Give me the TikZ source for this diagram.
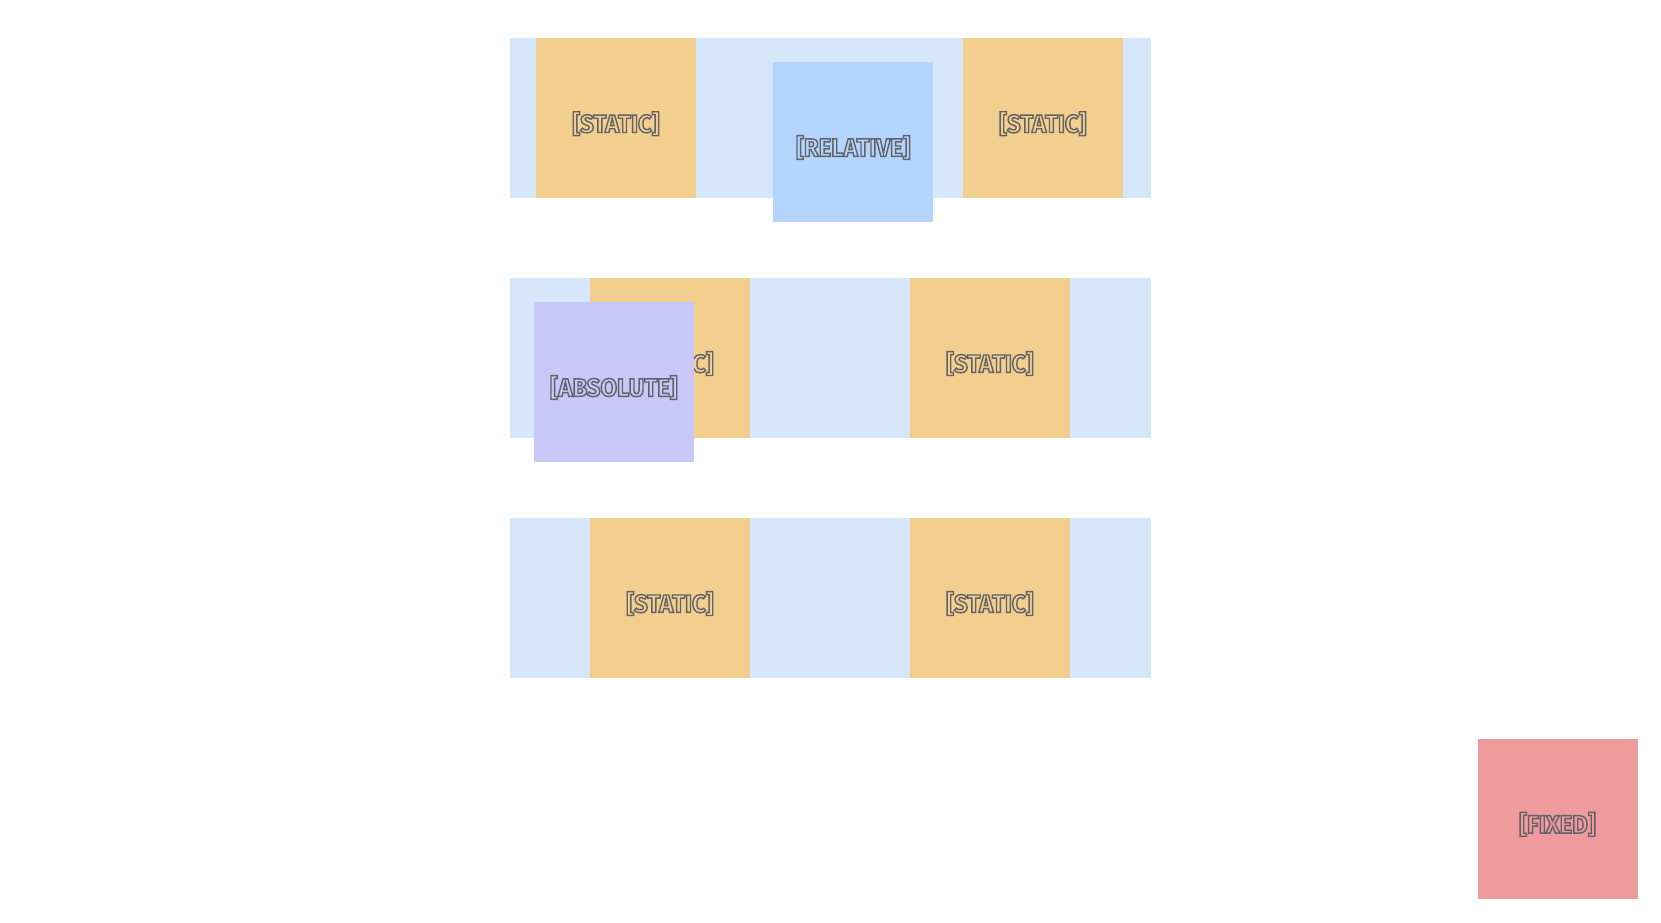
\documentclass[tikz,border=0pt]{standalone}
\usepackage{fontspec}
\setmainfont{Fira Sans}
\newfontfamily\labfont[FakeStretch=0.95]{Fira Sans}
\definecolor{rowbg}{HTML}{D6E6FB}
\definecolor{statc}{HTML}{F3CF8F}
\definecolor{relc}{HTML}{B3D5FD}
\definecolor{absc}{HTML}{C9C6F8}
\definecolor{fixc}{HTML}{EF9A9D}
\definecolor{txt}{HTML}{616168}
\newcommand{\outl}[1]{\special{pdf:literal direct 1 Tr 0.7 w}#1\special{pdf:literal direct 0 Tr}}
\begin{document}
\begin{tikzpicture}[x=0.5pt,y=-0.5pt,
  box/.style={minimum width=80pt,minimum height=80pt,inner sep=0pt,outer sep=0pt},
  lab/.style={font=\labfont\bfseries\fontsize{12.6}{12.6}\selectfont,text=txt,yshift=-2.8pt,inner sep=0pt},
  rowbox/.style={fill=rowbg,inner sep=0pt,outer sep=0pt,minimum width=320.5pt,minimum height=80pt},
  staticbox/.style={box,fill=statc},
  relbox/.style={box,fill=relc},
  absbox/.style={box,fill=absc},
  fixbox/.style={box,fill=fixc}]
\useasboundingbox[fill=white] (0,0) rectangle (1661,922);
% row 1
\node[rowbox] (r1) at (830,118.1) {};
\node[staticbox,label={[lab]center:\outl{[STATIC]}}] (s1a) at (616,118.1) {};
\node[staticbox,label={[lab]center:\outl{[STATIC]}}] (s1b) at (1042.9,118.1) {};
\node[relbox,label={[lab]center:\outl{[RELATIVE]}}] (rel) at (853.3,141.9) {};
% row 2
\node[rowbox] (r2) at (830,358) {};
\node[staticbox,label={[lab]center:\outl{[STATIC]}}] (s2a) at (670,358) {};
\node[staticbox,label={[lab]center:\outl{[STATIC]}}] (s2b) at (989.9,358) {};
\node[absbox,label={[lab]center:\outl{[ABSOLUTE]}}] (abs) at (613.9,381.9) {};
% row 3
\node[rowbox] (r3) at (830,598) {};
\node[staticbox,label={[lab]center:\outl{[STATIC]}}] (s3a) at (670,598) {};
\node[staticbox,label={[lab]center:\outl{[STATIC]}}] (s3b) at (989.9,598) {};
% fixed
\node[fixbox,label={[lab]center:\outl{[FIXED]}}] (fix) at (1557.5,818.7) {};
\end{tikzpicture}
\end{document}
